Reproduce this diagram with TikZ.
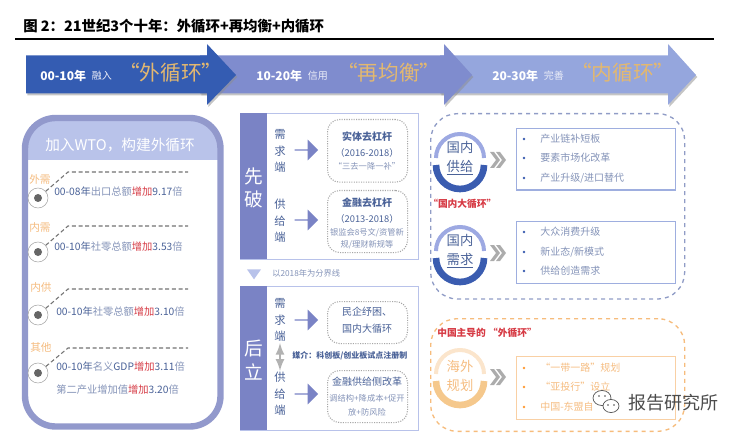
\documentclass[tikz,border=0pt]{standalone}
\usepackage{fontspec}
\setmainfont{Noto Sans CJK SC}
\usepackage{tikz}
\usetikzlibrary{positioning,shapes.arrows,shapes.geometric,shadows}
\definecolor{arrowone}{HTML}{345CB2}
\definecolor{arrowtwo}{HTML}{7F8CCE}
\definecolor{arrowthree}{HTML}{95A6DD}
\definecolor{goldtext}{HTML}{E3B870}
\definecolor{panelline}{HTML}{9299CC}
\definecolor{panelhead}{HTML}{B9C3EA}
\definecolor{sidefill}{HTML}{7A83C5}
\definecolor{framecol}{HTML}{B8C2EA}
\definecolor{bluetext}{HTML}{4A6298}
\definecolor{softtext}{HTML}{8493B8}
\definecolor{orangetext}{HTML}{F5BC80}
\definecolor{orangeline}{HTML}{F6BC7C}
\definecolor{redtext}{HTML}{D63A44}
\definecolor{ringlight}{HTML}{9DA9E2}
\definecolor{ringdark}{HTML}{3A5CB0}
\definecolor{ringpale}{HTML}{FBE5CC}
\definecolor{ringgold}{HTML}{F5C88C}
\newcommand{\hl}[1]{\textcolor{redtext}{#1}}
\newcommand{\ringpair}[4]{%
  \draw [line width=3pt,#3] ({#1-24},{#2-2}) arc (180:360:24);
  \draw [line width=5pt,#4] ({#1-24},{#2+5}) arc (180:0:24);}
\newcommand{\chevrons}[2]{%
  \foreach \s in {0,6}
    \fill [gray!65] ({#1+\s},{#2-8}) -- ({#1+\s+4},{#2-8}) -- ({#1+\s+10},#2) -- ({#1+\s+4},{#2+8}) -- ({#1+\s},{#2+8}) -- ({#1+\s+6},#2) -- cycle;}
\tikzstyle{bigarrow} = [drop shadow={shadow xshift=1pt,shadow yshift=-1.5pt,fill=black!45}]
\tikzstyle{datetext} = [font=\bfseries\fontsize{9}{10}\selectfont, text=white, inner sep=0pt]
\tikzstyle{smalltext} = [font=\fontsize{7.5}{9}\selectfont, text=white!85!arrowtwo, inner sep=0pt]
\tikzstyle{goldlabel} = [font=\fontsize{15.5}{17}\selectfont, text=goldtext, inner sep=0pt]
\tikzstyle{itemlabel} = [font=\fontsize{8}{10}\selectfont, text=orangetext, inner sep=0pt]
\tikzstyle{itemtext} = [font=\fontsize{7.7}{10}\selectfont, text=bluetext, anchor=west, inner sep=0pt]
\tikzstyle{ringdot} = [circle, draw=gray!70, fill=white, minimum size=15pt, inner sep=0pt]
\tikzstyle{innerdot} = [circle, fill=black!60, minimum size=6pt, inner sep=0pt]
\tikzstyle{leader} = [densely dashed, gray!90!black, thick]
\tikzstyle{frame} = [draw=framecol, line width=1pt, fill=white, rectangle, anchor=north west, inner sep=0pt]
\tikzstyle{sideblock} = [fill=sidefill, rectangle, anchor=north west, inner sep=0pt]
\tikzstyle{sidetext} = [font=\fontsize{14}{17.5}\selectfont, text=white, align=center, inner sep=0pt]
\tikzstyle{endtext} = [font=\fontsize{8.5}{12.3}\selectfont, text=bluetext, align=center, inner sep=0pt]
\tikzstyle{blockarrow} = [single arrow, fill=sidefill, single arrow head extend=2.8pt, single arrow head indent=0pt, minimum height=17.5pt, minimum width=15.5pt, inner sep=0pt]
\tikzstyle{dotbox} = [draw=gray!70, densely dotted, thick, rounded corners=9pt, fill=white, anchor=north west, inner sep=0pt]
\tikzstyle{boxhead} = [font=\bfseries\fontsize{7.5}{9}\selectfont, text=bluetext, inner sep=0pt]
\tikzstyle{boxmain} = [font=\fontsize{7.5}{9}\selectfont, text=bluetext, inner sep=0pt]
\tikzstyle{boxsub} = [font=\fontsize{6.2}{8}\selectfont, text=softtext, inner sep=0pt]
\tikzstyle{roundframe} = [draw=#1, dashed, line width=1pt, rounded corners=20pt, anchor=north west, inner sep=0pt]
\tikzstyle{listbox} = [draw=#1, line width=1pt, rectangle, anchor=north west, inner sep=0pt]
\tikzstyle{ringtext} = [font=\fontsize{10}{14.2}\selectfont, align=center, inner sep=0pt]
\tikzstyle{listtext} = [font=\fontsize{7.5}{9}\selectfont, text=softtext, anchor=west, inner sep=0pt]
\tikzstyle{redlabel} = [font=\bfseries\fontsize{7.3}{9}\selectfont, text=redtext, anchor=west, inner sep=0pt]
\begin{document}
\begin{tikzpicture}[x=0.75pt, y=-0.75pt]
     \useasboundingbox (0,0) rectangle (740,435);
     \node [font=\bfseries\fontsize{10.8}{12}\selectfont, anchor=west, inner sep=0pt] (title) at (23,26.5) {图 2：21世纪3个十年：外循环+再均衡+内循环};
     \coordinate (ruleleft) at (15,39);
     \coordinate (ruleright) at (714,39);
     \draw [line width=0.8pt] (ruleleft) -- (ruleright);

     \fill [arrowthree, bigarrow] (440,55.5) -- (668,55.5) -- (668,44) -- (696,75) -- (668,105) -- (668,93.5) -- (440,93.5) -- cycle;
     \fill [arrowtwo, bigarrow] (200,55.5) -- (444,55.5) -- (444,44) -- (472,75) -- (444,105) -- (444,93.5) -- (200,93.5) -- cycle;
     \fill [arrowone, bigarrow] (26,55.5) -- (207,55.5) -- (207,44) -- (236,75) -- (207,105) -- (207,93.5) -- (26,93.5) -- cycle;
     \node [datetext, anchor=west] (date1) at (40,76) {00-10年};
     \node [smalltext, right=4pt of date1] (verb1) {融入};
     \node [goldlabel, anchor=west] (goal1) at (119,73) {“外循环”};
     \node [datetext, anchor=west] (date2) at (256,76) {10-20年};
     \node [smalltext, right=4pt of date2] (verb2) {信用};
     \node [goldlabel, anchor=west] (goal2) at (337,73) {“再均衡”};
     \node [datetext, anchor=west] (date3) at (492,76) {20-30年};
     \node [smalltext, right=4pt of date3] (verb3) {完善};
     \node [goldlabel, anchor=west] (goal3) at (571,73) {“内循环”};

     \fill [white] (25,118) rectangle (220,426);
     \fill [panelhead] (28,160) [rounded corners=19pt] -- (28,120) -- (218,120) [sharp corners] -- (218,160) -- cycle;
     \draw [panelline, line width=4.8pt, rounded corners=23pt] (25,118) rectangle (220.5,426.5);
     \node [font=\fontsize{11}{13}\selectfont, text=white, inner sep=0pt] (paneltitle) at (120,145) {加入WTO，构建外循环};

     \node [itemlabel] (label1) at (40,179) {外需};
     \node [ringdot] (ring1) at (38,198) {};
     \node [innerdot] (dot1) at (38,198) {};
     \coordinate (bend1) at (68,172);
     \coordinate (stop1) at (188,172);
     \draw [leader] (ring1) -- (bend1) -- (stop1);
     \node [itemtext] (item1) at (54,192) {00-08年{\color{softtext}出口总额}\hl{增加}9.17{\color{softtext}倍}};

     \node [itemlabel] (label2) at (40,227) {内需};
     \node [ringdot] (ring2) at (38,252) {};
     \node [innerdot] (dot2) at (38,252) {};
     \coordinate (bend2) at (68,226);
     \coordinate (stop2) at (188,226);
     \draw [leader] (ring2) -- (bend2) -- (stop2);
     \node [itemtext] (item2) at (54,247) {00-10年{\color{softtext}社零总额}\hl{增加}3.53{\color{softtext}倍}};

     \node [itemlabel] (label3) at (41,287) {内供};
     \node [ringdot] (ring3) at (38,315) {};
     \node [innerdot] (dot3) at (38,315) {};
     \coordinate (bend3) at (68,289);
     \coordinate (stop3) at (188,289);
     \draw [leader] (ring3) -- (bend3) -- (stop3);
     \node [itemtext] (item3) at (56,312) {00-10年{\color{softtext}社零总额}\hl{增加}3.10{\color{softtext}倍}};

     \node [itemlabel] (label4) at (41,347) {其他};
     \node [ringdot] (ring4) at (38,373) {};
     \node [innerdot] (dot4) at (38,373) {};
     \coordinate (bend4) at (68,348);
     \coordinate (stop4) at (188,348);
     \draw [leader] (ring4) -- (bend4) -- (stop4);
     \node [itemtext] (item4) at (56,367) {00-10年{\color{softtext}名义}GDP\hl{增加}3.11{\color{softtext}倍}};
     \node [itemtext, text=softtext] (item5) at (56,390) {第二产业增加值\hl{增加}{\color{bluetext}3.20}倍};

     \node [frame, minimum width=133.5pt, minimum height=109.5pt] (upperframe) at (240,113) {};
     \node [sideblock, minimum width=20.25pt, minimum height=109.5pt] (upperside) at (240,113) {};
     \node [sidetext] (first) at (254,188) {先\\破};
     \node [endtext] (demand1) at (280,151) {需\\求\\端};
     \node [endtext] (supply1) at (280,221) {供\\给\\端};
     \node [blockarrow] (arrow1) at (306,150) {};
     \node [blockarrow] (arrow2) at (306,220) {};
     \node [dotbox, minimum width=60pt, minimum height=47pt] (box1) at (327,119) {};
     \node [boxhead] (box1a) at (367,137) {实体去杠杆};
     \node [boxmain, font=\fontsize{7}{9}\selectfont] (box1b) at (367,153) {（2016-2018）};
     \node [boxsub] (box1c) at (367,166) {“三去一降一补”};
     \node [dotbox, minimum width=60pt, minimum height=46.5pt] (box2) at (327,190) {};
     \node [boxhead] (box2a) at (367,203) {金融去杠杆};
     \node [boxmain, font=\fontsize{7}{9}\selectfont] (box2b) at (367,219) {（2013-2018）};
     \node [boxsub] (box2c) at (367,233) {银监会8号文/资管新};
     \node [boxsub] (box2d) at (367,245) {规/理财新规等};

     \node [isosceles triangle, isosceles triangle apex angle=70, shape border rotate=-90, fill=framecol, minimum height=7.5pt, inner sep=0pt] (divider) at (254,273) {};
     \node [boxsub, anchor=west] (dividertext) at (272,273) {以2018年为分界线};

     \node [frame, minimum width=133.5pt, minimum height=108pt] (lowerframe) at (240,286) {};
     \node [sideblock, minimum width=20.25pt, minimum height=108pt] (lowerside) at (240,286) {};
     \node [sidetext] (second) at (254,360) {后\\立};
     \node [endtext] (demand2) at (280,320) {需\\求\\端};
     \node [endtext] (supply2) at (280,394) {供\\给\\端};
     \draw [<->, >=latex, gray!60, line width=2pt, shorten >=1pt, shorten <=1pt] (demand2) -- (supply2);
     \node [boxhead, font=\bfseries\fontsize{6}{8}\selectfont, anchor=west] (medium) at (292,356) {媒介：科创板/创业板试点注册制};
     \node [blockarrow] (arrow3) at (306,320) {};
     \node [blockarrow] (arrow4) at (306,394) {};
     \node [dotbox, minimum width=60pt, minimum height=31.5pt] (box3) at (327,301) {};
     \node [boxmain] (box3a) at (367,312) {民企纾困、};
     \node [boxmain] (box3b) at (367,329) {国内大循环};
     \node [dotbox, minimum width=60pt, minimum height=39pt] (box4) at (327,370) {};
     \node [boxmain] (box4a) at (367,382) {金融供给侧改革};
     \node [boxsub] (box4b) at (367,398) {调结构+降成本+促开};
     \node [boxsub] (box4c) at (367,412) {放+防风险};

     \node [roundframe=arrowthree!75!gray, minimum width=190.5pt, minimum height=139pt] (innerloop) at (430,113) {};
     \ringpair{460}{160}{ringlight}{ringdark}
     \node [ringtext, text=bluetext] (supplyring) at (460,158.5) {国内\\\underline{供给}};
     \chevrons{490}{160}
     \node [listbox=framecol!80!arrowone, minimum width=119pt, minimum height=46pt] (list1) at (516,128) {};
     \foreach \y/\t [count=\i] in {139/产业链补短板,158/要素市场化改革,178/{产业升级/进口替代}} {
       \fill [ringdark] (524,\y) circle (1pt);
       \node [listtext] (lista\i) at (540,\y) {\t};
     }
     \node [redlabel] (domestic) at (428,204) {“国内大循环”};
     \ringpair{460}{253}{ringlight}{ringdark}
     \node [ringtext, text=bluetext] (demandring) at (460,251.5) {国内\\\underline{需求}};
     \chevrons{490}{253}
     \node [listbox=framecol!80!arrowone, minimum width=119pt, minimum height=46.5pt] (list2) at (516,221) {};
     \foreach \y/\t [count=\i] in {232/大众消费升级,252/{新业态/新模式},271/供给创造需求} {
       \fill [ringdark] (524,\y) circle (1pt);
       \node [listtext] (listb\i) at (540,\y) {\t};
     }

     \node [roundframe=orangeline, minimum width=190.5pt, minimum height=84.5pt] (outerloop) at (430,318) {};
     \node [redlabel] (overseas) at (437,333) {中国主导的 “外循环”};
     \ringpair{460}{376}{ringpale}{ringgold}
     \node [ringtext, text=orangetext] (overseasring) at (460,375.5) {海外\\规划};
     \chevrons{490}{377}
     \node [listbox=ringpale!50!orangeline, minimum width=119pt, minimum height=47pt] (list3) at (516,356) {};
     \foreach \y/\t [count=\i] in {368/“一带一路”规划,387/“亚投行”设立,407/中国-东盟自贸区} {
       \fill [orange!80] (524,\y) circle (1pt);
       \node [listtext, text=orangetext] (listc\i) at (540,\y) {\t};
     }

     \fill [white] (594,392) rectangle (621,414);
     \draw [black!70, fill=white, line width=0.5pt] (602,398) ellipse (9 and 7.5);
     \draw [black!70, fill=white, line width=0.5pt] (611,406) ellipse (8 and 6.5);
     \foreach \x/\y in {599/396,605/396,608/405,614/405}
       \fill [black!70] (\x,\y) circle (0.6pt);
     \node [font=\fontsize{13.5}{15}\selectfont, text=black!70, anchor=west, inner sep=1pt] (watermark) at (627,403) {报告研究所};
\end{tikzpicture}
\end{document}
